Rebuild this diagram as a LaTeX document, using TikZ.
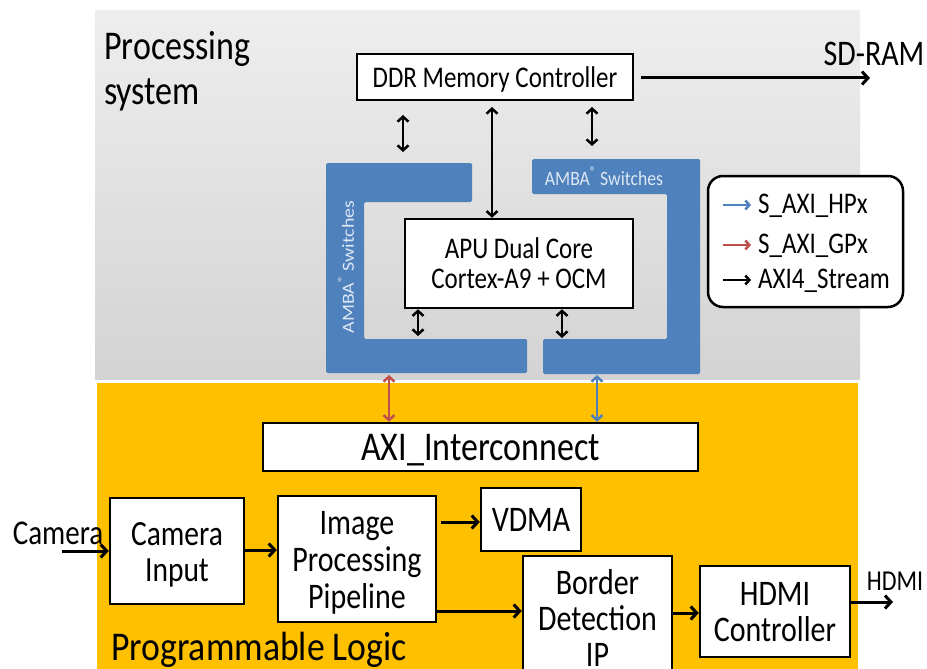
\documentclass[tikz,border=0pt]{standalone}
\usepackage{fontspec}
\setmainfont{Carlito}
\usetikzlibrary{arrows.meta}
\definecolor{amba}{RGB}{79,129,189}
\definecolor{plgold}{RGB}{255,192,0}
\definecolor{gpred}{RGB}{192,80,77}
\definecolor{psTop}{RGB}{238,238,238}
\definecolor{psBot}{RGB}{211,211,211}
\definecolor{ambatext}{RGB}{222,232,244}
\newcommand\vst[1]{\scalebox{1}[1.2]{\raisebox{-0.14em}[\height][\depth]{\begin{tabular}{@{}c@{}}#1\end{tabular}}}}
\newcommand\vsl[2][1]{\scalebox{#1}[1.2]{\raisebox{-0.14em}[\height][\depth]{\begin{tabular}{@{}l@{}}#2\end{tabular}}}}
\newcommand\stackc[1]{\scalebox{1}[1.2]{\vbox{\halign{\hfil##\hfil\cr#1\crcr}}}}
\newcommand\fsz[2]{\fontsize{#1}{#2}\selectfont}
\newcommand\regmark{\raisebox{0.45em}{\scalebox{0.7}{®}}}
\begin{document}
\begin{tikzpicture}[x=1pt,y=-1pt,
  box/.style={draw=black,fill=white,line width=2.5pt,inner sep=0pt},
  txt/.style={inner sep=0pt},
  arr/.style={line width=3pt,-{Straight Barb[length=6pt,width=13pt]}},
  darr/.style={line width=2.5pt,{Straight Barb[length=5pt,width=11pt]}-{Straight Barb[length=5pt,width=11pt]}},
  ambashape/.style={fill=amba,rounded corners=1.5pt},
  ambalabel/.style={inner sep=0pt,text=ambatext,font=\fsz{17}{18}}
]
\useasboundingbox (0,0) rectangle (927,669);
\clip (0,0) rectangle (927,669);
\fill[white] (0,0) rectangle (927,669);
% regions
\shade[top color=psTop,bottom color=psBot] (95,11) rectangle (860,379);
\fill[plgold] (97,383) rectangle (858,680);
\node[txt,anchor=west,font=\fsz{34}{37.5}] (pslabel) at (104,67) {\vsl{Processing\\system}};
\node[txt,anchor=west,font=\fsz{34}{34}] (pllabel) at (111,650) {\scalebox{1.05}[1.2]{Programmable Logic}};
% AMBA switches
\fill[ambashape] (326,163) -- (472,163) -- (472,202) -- (364,202) -- (364,339) -- (527,339) -- (527,373) -- (326,373) -- cycle;
\fill[ambashape] (532,159) -- (700,159) -- (700,374) -- (543,374) -- (543,339) -- (667,339) -- (667,194) -- (532,194) -- cycle;
\node[ambalabel,rotate=90] (ambaL) at (346,267) {\scalebox{1.17}[1]{AMBA\regmark\ Switches}};
\node[ambalabel] (ambaR) at (604,176) {\scalebox{1.04}[1.2]{AMBA\regmark\ Switches}};
% boxes
\node[box,minimum width=276,minimum height=46,font=\fsz{25}{25}] (ddr) at (495,77) {\vst{DDR Memory Controller}};
\node[box,minimum width=228,minimum height=89,font=\fsz{25}{25}] (apu) at (519,263.5) {\vst{APU Dual Core\\Cortex-A9 + OCM}};
\node[box,minimum width=435,minimum height=48,font=\fsz{34}{34}] (axi) at (480.5,447) {\vst{AXI\_Interconnect}};
\node[box,minimum width=134,minimum height=106,font=\fsz{29.5}{30}] (camin) at (177,551) {\vst{Camera\\Input}};
\node[box,minimum width=158,minimum height=126,font=\fsz{30}{31}] (ipp) at (357,559) {\vst{Image\\Processing\\Pipeline}};
\node[box,minimum width=100,minimum height=63,font=\fsz{30}{31}] (vdma) at (531,519.5) {\vst{VDMA}};
\node[box,minimum width=149,minimum height=124,font=\fsz{30}{29.6}] (bd) at (597.5,618) {\stackc{Border\cr Detection\cr IP}};
\node[box,minimum width=150,minimum height=91,font=\fsz{30}{29.5}] (hdmi) at (775,611.5) {\vst{HDMI\\Controller}};
% external labels
\node[txt,font=\fsz{30}{30}] (sdram) at (874,54) {\scalebox{1}[1.2]{SD-RAM}};
\node[txt,font=\fsz{29}{29}] (camlabel) at (58,533) {\scalebox{1}[1.2]{Camera}};
\node[txt,font=\fsz{24}{24}] (hdmilabel) at (895,581) {\scalebox{1}[1.2]{HDMI}};
% coordinates
\coordinate (sdend) at (870,78);
\coordinate (dL1) at (403,115); \coordinate (dL2) at (403,152);
\coordinate (dM1) at (492,107);
\coordinate (dR1) at (592,107); \coordinate (dR2) at (592,146);
\coordinate (aL) at (418,336); \coordinate (aR) at (562,338);
\coordinate (rS) at (389,375); \coordinate (bS) at (597,375);
\coordinate (camstart) at (62,551);
\coordinate (hdmiend) at (893,602);
% PS connectors
\draw[arr] (ddr.east |- sdend) ++(7,0) -- (sdend);
\draw[darr] (dL1) -- (dL2);
\draw[darr] (dM1) -- (dM1 |- apu.north);
\draw[darr] (dR1) -- (dR2);
\draw[darr] (aL |- apu.south) -- (aL);
\draw[darr] (aR |- apu.south) -- (aR);
\draw[darr,draw=gpred] (rS) -- (rS |- axi.north);
\draw[darr,draw=amba] (bS) -- (bS |- axi.north);
% PL connectors
\draw[arr] (camstart) -- (camin.west |- camstart);
\draw[arr] (camin.east |- 0,550) -- (ipp.west |- 0,550);
\draw[arr] ([xshift=4pt]ipp.east |- 0,522) -- (vdma.west |- 0,522);
\draw[arr] (ipp.east |- 0,611) -- (bd.west |- 0,611);
\draw[arr] (bd.east |- 0,613) -- (hdmi.west |- 0,613);
\draw[arr] (hdmi.east |- hdmiend) -- (hdmiend);
% legend
\node[draw=black,line width=2.5pt,rounded corners=15pt,fill=white,minimum width=195,minimum height=131,inner sep=0pt] (legend) at (805.5,241.5) {};
\coordinate (l1a) at (723,205); \coordinate (l1b) at (751,205);
\coordinate (l2a) at (723,245); \coordinate (l2b) at (751,245);
\coordinate (l3a) at (723,280); \coordinate (l3b) at (751,280);
\draw[line width=2.5pt,amba,-{Straight Barb[length=4pt,width=9pt]}] (l1a) -- (l1b);
\draw[line width=2.5pt,gpred,-{Straight Barb[length=4pt,width=9pt]}] (l2a) -- (l2b);
\draw[line width=2.5pt,black,-{Straight Barb[length=4pt,width=9pt]}] (l3a) -- (l3b);
\node[txt,anchor=west,font=\fsz{25}{25}] (lg1) at (758,206) {\scalebox{1}[1.2]{S\_AXI\_HPx}};
\node[txt,anchor=west,font=\fsz{25}{25}] (lg2) at (758,246) {\scalebox{1}[1.2]{S\_AXI\_GPx}};
\node[txt,anchor=west,font=\fsz{25}{25}] (lg3) at (758,281) {\scalebox{1}[1.2]{AXI4\_Stream}};
\end{tikzpicture}
\end{document}
